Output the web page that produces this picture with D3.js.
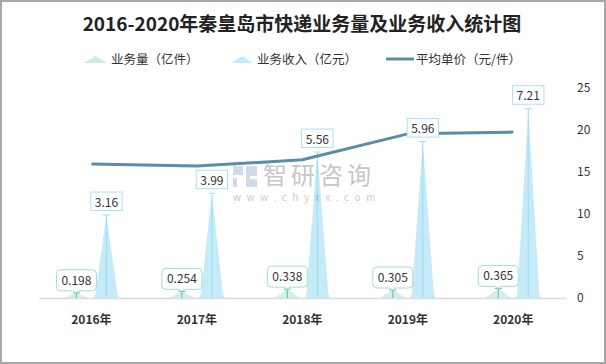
<!DOCTYPE html>
<html><head><meta charset="utf-8">
<script src="https://cdn.jsdelivr.net/npm/d3@7"></script>
<style>body{margin:0;background:#fff}svg{display:block}text{font-family:"Noto Sans CJK SC","Noto Sans",sans-serif}</style>
</head><body>
<svg id="c" width="606" height="364"></svg>
<script>
const years = ["2016年","2017年","2018年","2019年","2020年"];
const volume = [0.198, 0.254, 0.338, 0.305, 0.365];
const revenue = [3.16, 3.99, 5.56, 5.96, 7.21];
const price = [15.96, 15.71, 16.45, 19.54, 19.75];
const rightTicks = [0, 5, 10, 15, 20, 25];
const legendNames = ["业务量（亿件）", "业务收入（亿元）", "平均单价（元/件）"];
const titleText = "2016-2020年秦皇岛市快递业务量及业务收入统计图";

const svg = d3.select("#c");
const W = 606, H = 364;
svg.append("rect").attr("x",1).attr("y",1).attr("width",W-2).attr("height",H-2)
  .attr("fill","#fff").attr("stroke","#a8a8a8").attr("stroke-width",2);

const x = d3.scaleBand().domain(years).range([38.7, 566]);
const yL = d3.scaleLinear().domain([0, 8]).range([298, 88]);
const yR = d3.scaleLinear().domain([0, 25]).range([298, 88]);
const off = 15, half = 13;

// title
svg.append("text").attr("x",302).attr("y",31).attr("text-anchor","middle")
  .attr("font-size",19).attr("font-weight","bold").attr("fill","#222").text(titleText);

// legend
const lg = svg.append("g");
lg.append("path").attr("d","M84,63 L95.5,56 L107,63 Z").attr("fill","#cdebe5");
lg.append("text").attr("x",111).attr("y",63.5).attr("font-size",12.5).attr("fill","#333").text(legendNames[0]);
lg.append("path").attr("d","M231,63 L242,56 L253,63 Z").attr("fill","#c5ebf8");
lg.append("text").attr("x",257).attr("y",63.5).attr("font-size",12.5).attr("fill","#333").text(legendNames[1]);
lg.append("line").attr("x1",386).attr("x2",414).attr("y1",59).attr("y2",59).attr("stroke","#5a8ea6").attr("stroke-width",3);
lg.append("text").attr("x",416).attr("y",63.5).attr("font-size",12.5).attr("fill","#333").text(legendNames[2]);

// x axis
const xAxis = svg.append("g").attr("transform","translate(0,298)")
  .call(d3.axisBottom(x).tickSize(0).tickPadding(17));
xAxis.select(".domain").attr("stroke","#dcdcdc").attr("stroke-width",1.5);
xAxis.selectAll("text").attr("font-size",12).attr("font-weight","bold").attr("fill","#333")
  .attr("font-family","'Noto Sans CJK SC',sans-serif");

// right axis
const rAxis = svg.append("g").attr("transform","translate(566,0)")
  .call(d3.axisRight(yR).tickValues(rightTicks).tickSize(0).tickPadding(11));
rAxis.select(".domain").remove();
rAxis.selectAll("text").attr("font-size",12).attr("fill","#333");

const cx = d => x(d) + x.bandwidth()/2;

// volume spikes
years.forEach((yr,i) => {
  const c = cx(yr) - off, t = yL(volume[i]);
  svg.append("path").attr("d",`M${c-half},298 L${c},${t} L${c+half},298 Z`).attr("fill","#d3eee8");
  svg.append("line").attr("x1",c).attr("x2",c).attr("y1",298).attr("y2",t).attr("stroke","#5cbfa6").attr("stroke-width",1);
  svg.append("line").attr("x1",c-3.5).attr("x2",c+3.5).attr("y1",t).attr("y2",t).attr("stroke","#5cbfa6").attr("stroke-width",1);
});
// revenue spikes
years.forEach((yr,i) => {
  const c = cx(yr) + off, t = yL(revenue[i]);
  svg.append("path").attr("d",`M${c-half},298 L${c-half+2},294 L${c},${t} L${c+half-2},294 L${c+half},298 Z`).attr("fill","#c5ebf8");
  svg.append("line").attr("x1",c).attr("x2",c).attr("y1",298).attr("y2",t).attr("stroke","#9edcf0").attr("stroke-width",1);
  svg.append("line").attr("x1",c-3.5).attr("x2",c+3.5).attr("y1",t).attr("y2",t).attr("stroke","#9edcf0").attr("stroke-width",1);
});

// price line
svg.append("path").datum(price)
  .attr("d", d3.line().x((d,i)=>cx(years[i])).y(d=>yR(d)))
  .attr("fill","none").attr("stroke","#5a8ea6").attr("stroke-width",3).attr("stroke-linejoin","round");

// watermark
const wm = svg.append("g").attr("opacity",0.55);
wm.append("path").attr("d","M233,166 h10 v9 h-10 Z M233,178 h4 v9 h-4 Z").attr("fill","#a9bfdc");
wm.append("path").attr("d","M246,166 h11 v10 h-7 v3 h7 v8 h-11 Z").attr("fill","#a9bfdc");
wm.append("text").attr("x",263).attr("y",183.5).attr("font-size",24).attr("fill","#9a9a9a")
  .attr("letter-spacing",4).text("智研咨询");
wm.append("text").attr("x",233).attr("y",201).attr("font-size",10).attr("fill","#a0a0a0")
  .attr("font-family","'Noto Sans',sans-serif")
  .attr("letter-spacing",5.6).text("www.chyxx.com");

// revenue labels
years.forEach((yr,i) => {
  const c = cx(yr) + off, t = yL(revenue[i]);
  const txt = String(revenue[i]);
  const g = svg.append("g");
  const tx = g.append("text").attr("x",c).attr("y",t-8.5).attr("text-anchor","middle")
    .attr("font-size",12).attr("fill","#333").text(txt);
  const w = tx.node().getComputedTextLength() + 8;
  g.insert("rect","text").attr("x",c-w/2).attr("y",t-23).attr("width",w).attr("height",18.5)
    .attr("fill","#fff").attr("stroke","#a8e2f4").attr("stroke-width",1);
});
// volume labels
years.forEach((yr,i) => {
  const c = cx(yr) - off, t = yL(volume[i]);
  const txt = String(volume[i]);
  const g = svg.append("g");
  const tx = g.append("text").attr("x",c).attr("y",t-8).attr("text-anchor","middle")
    .attr("font-size",12).attr("fill","#333").text(txt);
  const w = tx.node().getComputedTextLength() + 10, h = 21, r = 4;
  const L = c-w/2, R = c+w/2, B = t-2, T = B-h;
  const d = `M${L+r},${T} H${R-r} Q${R},${T} ${R},${T+r} V${B-r} Q${R},${B} ${R-r},${B} H${c+2} L${c},${t} L${c-4},${B} H${L+r} Q${L},${B} ${L},${B-r} V${T+r} Q${L},${T} ${L+r},${T} Z`;
  g.insert("path","text").attr("d",d).attr("fill","#fff").attr("stroke","#a6dcd2").attr("stroke-width",1);
});
</script>
</body></html>
